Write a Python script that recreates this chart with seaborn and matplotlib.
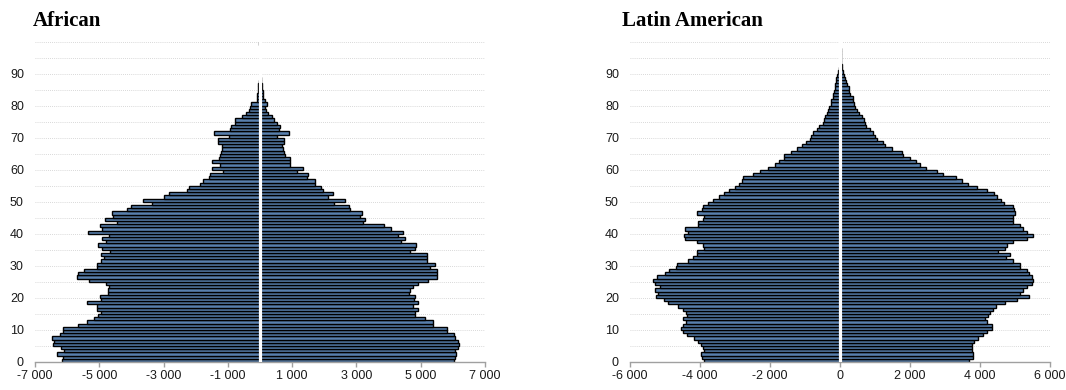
import matplotlib
matplotlib.use("Agg")
import matplotlib.pyplot as plt
from matplotlib.ticker import FuncFormatter
import seaborn as sns
import pandas as pd

# single years of age 0..99
ages = list(range(100))

african_left = [6170, 6120, 6330, 6100, 6200, 6430, 6400, 6480, 6225, 6120,
                6140, 5650, 5395, 5165, 5050, 4960, 5080, 5080, 5380, 4960,
                4980, 4740, 4720, 4690, 4790, 5310, 5690, 5650, 5470, 5080,
                5080, 4950, 4855, 4960, 4670, 4900, 5030, 4790, 4900, 4700,
                5340, 4930, 4980, 4460, 4820, 4565, 4615, 4150, 4025, 3370,
                3630, 2980, 2820, 2280, 2200, 1870, 1785, 1590, 1555, 1160,
                1505, 1245, 1505, 1285, 1260, 1225, 1170, 1170, 1300, 1300,
                965, 1430, 935, 900, 790, 770, 560, 435, 330, 310,
                270, 100, 90, 80, 70, 60, 50, 30, 15, 0,
                0, 0, 0, 0, 0, 0, 0, 0, 0, 20]
african_right = [6040, 6070, 6100, 6070, 6170, 6190, 6170, 6070, 6040, 5810,
                 5830, 5395, 5395, 5135, 4825, 4825, 4900, 4750, 4900, 4790,
                 4825, 4650, 4670, 4770, 4930, 5240, 5520, 5500, 5520, 5290,
                 5450, 5190, 5190, 5190, 4670, 4825, 4855, 4380, 4510, 4305,
                 4440, 4065, 3860, 3215, 3270, 3110, 3175, 2800, 2760, 2300,
                 2645, 2130, 2280, 1970, 1900, 1710, 1710, 1450, 1505, 1140,
                 1350, 945, 945, 945, 790, 750, 705, 675, 750, 750,
                 520, 900, 600, 620, 520, 445, 385, 240, 185, 165,
                 210, 150, 100, 90, 80, 70, 60, 40, 20, 0,
                 0, 0, 0, 0, 0, 0, 0, 0, 0, 0]
latin_left = [3900, 3950, 3980, 3900, 3925, 3980, 4050, 4170, 4380, 4495,
              4540, 4495, 4400, 4495, 4380, 4400, 4475, 4620, 4905, 5030,
              5260, 5190, 5285, 5140, 5285, 5330, 5240, 5000, 4875, 4685,
              4650, 4350, 4210, 4095, 4075, 3900, 3925, 4095, 4430, 4455,
              4330, 4430, 4050, 4050, 3925, 3900, 4075, 3950, 3925, 3760,
              3620, 3450, 3315, 3160, 3000, 2875, 2810, 2760, 2475, 2285,
              2050, 1855, 1735, 1600, 1600, 1400, 1220, 1085, 970, 855,
              820, 780, 665, 610, 495, 455, 430, 380, 345, 305,
              265, 250, 210, 190, 170, 150, 135, 125, 115, 95,
              70, 40, 0, 0, 0, 0, 0, 0, 0, 0]
latin_right = [3695, 3810, 3790, 3760, 3760, 3760, 3830, 3950, 4095, 4190,
               4330, 4330, 4210, 4140, 4240, 4285, 4380, 4460, 4715, 5050,
               5410, 5140, 5240, 5350, 5475, 5525, 5475, 5410, 5350, 5140,
               5140, 4930, 4740, 4860, 4525, 4715, 4780, 4930, 5350, 5500,
               5350, 5240, 5140, 4950, 4950, 4950, 5000, 4970, 4950, 4685,
               4590, 4475, 4400, 4190, 3925, 3665, 3475, 3315, 2935, 2760,
               2455, 2285, 2170, 2000, 1810, 1760, 1475, 1285, 1240, 1050,
               1000, 935, 855, 745, 725, 685, 620, 550, 475, 440,
               400, 380, 360, 285, 265, 265, 190, 170, 145, 115,
               90, 70, 50, 40, 30, 25, 20, 15, 10, 8]

titles = ["African", "Latin American"]
x_limits = [(-7000, 7000), (-6000, 6000)]
x_ticks = [list(range(-7000, 7001, 2000)), list(range(-6000, 6001, 2000))]

sns.set_theme(style="white")
plt.rcParams["font.family"] = ["Liberation Sans", "DejaVu Sans"]

bar_color = "#4a7ebb"
W, H = 1066, 390

fig = plt.figure(figsize=(W / 100, H / 100), dpi=100)
ax_af = fig.add_axes([35 / W, 28 / H, 450 / W, 320.4 / H])
ax_la = fig.add_axes([630 / W, 28 / H, 420 / W, 320.4 / H])


def pyramid(ax, left, right, title, xlim, xticks, title_x):
    df = pd.DataFrame({
        "age": ages * 2,
        "pop": [-v for v in left] + list(right),
        "side": ["left"] * len(left) + ["right"] * len(right),
    })
    df["pos"] = df["age"] + 0.5  # bar covers [age, age + 1]
    sns.barplot(data=df, x="pop", y="pos", hue="side", orient="h",
                native_scale=True, dodge=False, width=1,
                palette=[bar_color, bar_color], edgecolor="black",
                linewidth=1.0, errorbar=None, legend=False, ax=ax)
    ax.axvline(0, color="white", lw=2.3, zorder=5)

    ax.set_xlim(*xlim)
    ax.set_ylim(0, 100)
    ax.set_xticks(xticks)
    ax.xaxis.set_major_formatter(FuncFormatter(lambda v, p: f"{int(v):,}".replace(",", " ")))
    yt = list(range(0, 101, 5))
    ax.set_yticks(yt)
    ax.set_yticklabels([str(v) if v % 10 == 0 and v < 100 else "" for v in yt])
    ax.grid(axis="y", color="#cccccc", ls=(0, (1, 1.5)), lw=0.6)
    ax.grid(axis="x", visible=False)
    ax.set_axisbelow(True)
    ax.set_xlabel("")
    ax.set_ylabel("")

    for s in ["left", "right", "top"]:
        ax.spines[s].set_visible(False)
    ax.spines["bottom"].set_color("#a0a0a0")
    ax.spines["bottom"].set_linewidth(1)
    ax.tick_params(axis="y", length=0, pad=8, labelsize=9, labelcolor="#1a1a1a")
    ax.tick_params(axis="x", bottom=True, length=3.5, width=1, color="#a0a0a0",
                   labelsize=9, labelcolor="#1a1a1a", pad=2)

    fig.text(title_x / W, 1 - 25.5 / H, title, fontsize=15, fontweight="bold",
             color="black", family=["Liberation Serif", "DejaVu Serif"],
             va="baseline", ha="left")


pyramid(ax_af, african_left, african_right, titles[0], x_limits[0], x_ticks[0], 33)
pyramid(ax_la, latin_left, latin_right, titles[1], x_limits[1], x_ticks[1], 622)

fig.savefig("out.png", dpi=100)
